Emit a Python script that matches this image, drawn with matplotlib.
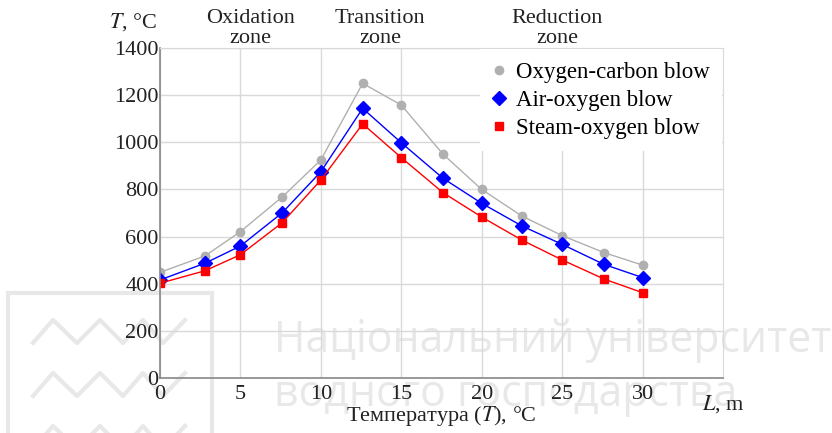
import numpy as np
import matplotlib.pyplot as plt
from matplotlib.lines import Line2D
from matplotlib.patches import Rectangle

# distance along the reactor, m
L = [0, 2.8, 5, 7.6, 10, 12.6, 15, 17.6, 20, 22.5, 25, 27.6, 30]

# temperatures, deg C
t_oxy_carbon = [448, 518, 621, 768, 925, 1250, 1158, 949, 800, 687, 604, 532, 479]
t_air_oxy = [416, 487, 560, 701, 875, 1144, 998, 847, 741, 645, 567, 482, 426]
t_steam_oxy = [402, 455, 523, 659, 840, 1078, 935, 786, 683, 585, 501, 420, 362]

labels = ['Oxygen-carbon blow', 'Air-oxygen blow', 'Steam-oxygen blow']
zones = ['Oxidation\nzone', 'Transition\nzone', 'Reduction\nzone']
zone_x = [5.6, 13.7, 24.7]

plt.rcParams['font.family'] = ['Liberation Serif', 'DejaVu Serif']
plt.rcParams['font.size'] = 16

fig = plt.figure(figsize=(8.32, 4.33), dpi=100)
W, H = 832, 433

# watermark behind the chart
wm = '#e8e8e8'
fig.patches.append(Rectangle((8/W, -0.2), 204/W, 0.2 + 1 - 293/H,
                             transform=fig.transFigure, fill=False, ec=wm, lw=3, zorder=0))
zx = np.array([33, 53, 77, 100, 123, 143, 163, 185]) / W
for top in [320, 373, 426]:
    zy = 1 - (top + np.array([23, 0, 23, 0, 23, 0, 23, 0])) / H
    fig.add_artist(Line2D(zx, zy, color=wm, lw=3, zorder=0))
fig.text(274/W, 1 - 341/H, 'Національний університет', family='Open Sans',
         fontsize=30.8, color=wm, va='center', ha='left', zorder=0)
fig.text(274/W, 1 - 395/H, 'водного господарства', family='Open Sans',
         fontsize=30.8, color=wm, va='center', ha='left', zorder=0)

ax = fig.add_axes([160/W, 1 - 378/H, 563/W, 330/H])
ax.set_zorder(2)
ax.patch.set_alpha(0)

ax.plot(L, t_oxy_carbon, color='#b0b0b0', lw=1, marker='o', ms=6, label=labels[0])
ax.plot(L, t_air_oxy, color='#0000ff', lw=1, marker='D', ms=7, label=labels[1])
ax.plot(L, t_steam_oxy, color='#ff0000', lw=1, marker='s', ms=6, label=labels[2])

ax.set_xlim(0, 35)
ax.set_ylim(0, 1400)
ax.set_xticks([0, 5, 10, 15, 20, 25, 30])
ax.set_yticks(range(0, 1401, 200))
ax.tick_params(length=0, labelcolor='#222222')
ax.tick_params(axis='x', pad=5)
ax.tick_params(axis='y', pad=1)
ax.grid(color='#d9d9d9', lw=1)
ax.set_axisbelow(True)
for s in ['top', 'right']:
    ax.spines[s].set_color('#d9d9d9')
for s in ['left', 'bottom']:
    ax.spines[s].set_color('#888888')
    ax.spines[s].set_linewidth(1.2)

leg = ax.legend(loc='upper right', frameon=True, fancybox=False, edgecolor='none',
                framealpha=1, handlelength=0.6, handletextpad=0.4, borderaxespad=0.05,
                borderpad=0.55, labelspacing=0.3, fontsize=16.5)
for h in leg.legend_handles:
    h.set_linestyle('none')

for zxp, zt in zip(zone_x, zones):
    ax.text(zxp, 1.0, zt, transform=ax.get_xaxis_transform(), ha='center', va='bottom',
            linespacing=1.1, color='#222222')

ax.text(-0.005, 1.045, '$T$, °C', transform=ax.transAxes, ha='right', va='bottom',
        color='#222222', math_fontfamily='stix')
ax.text(0.963, -0.045, '$L$, m', transform=ax.transAxes, ha='left', va='top',
        color='#222222', math_fontfamily='stix')
ax.set_xlabel('Температура ($T$), °C', color='#222222', labelpad=0,
              math_fontfamily='stix')

fig.savefig('out.png', dpi=100)
